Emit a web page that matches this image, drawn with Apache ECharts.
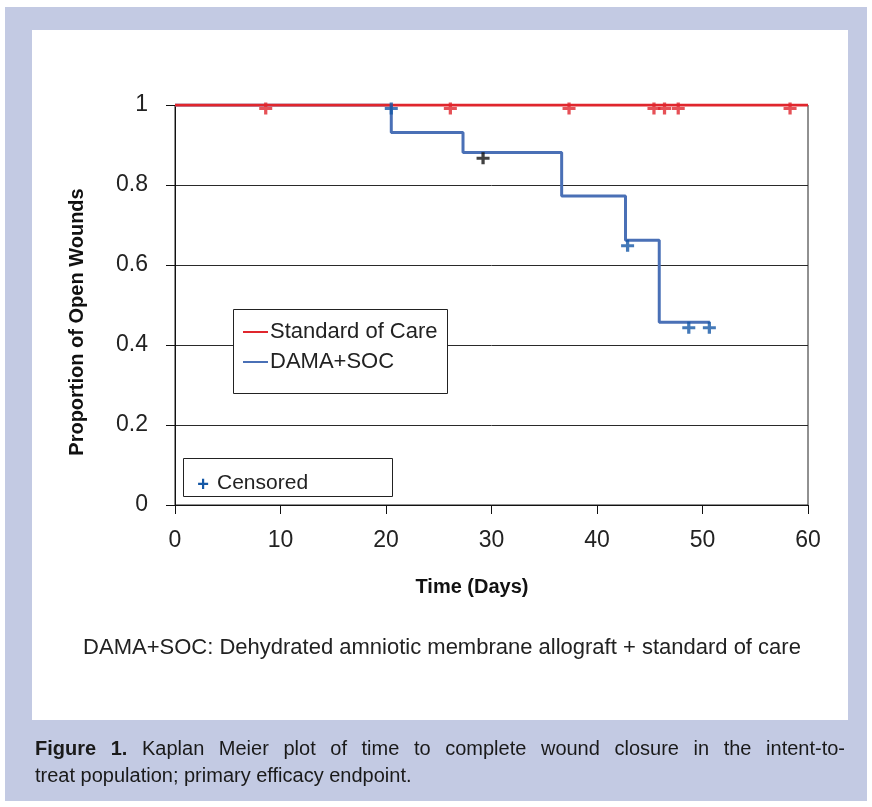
<!DOCTYPE html>
<html>
<head>
<meta charset="utf-8">
<script src="https://cdn.jsdelivr.net/npm/echarts@6/dist/echarts.min.js"></script>
<style>
html,body{margin:0;padding:0;background:#fff;}
#chart{width:872px;height:807px;}
</style>
</head>
<body>
<div id="chart"></div>
<script>
// ---- data ----
const xMin = 0, xMax = 60, xStep = 10;
const yMin = 0, yMax = 1, yStep = 0.2;

const socTimes = [0, 60];
const socValues = [1, 1];
const socCensorDays = [8.6, 26.1, 37.35, 45.4, 46.4, 47.7, 58.3];
const socCensorValues = [0.991, 0.991, 0.991, 0.991, 0.991, 0.991, 0.991];

const damaTimes = [0, 20.5, 27.3, 36.65, 42.7, 45.9, 50.7];
const damaValues = [1, 0.931, 0.881, 0.7725, 0.662, 0.457, 0.457];
const damaCensorDays = [20.5, 42.9, 48.7, 50.65];
const damaCensorValues = [0.991, 0.648, 0.443, 0.443];

const blackCensorDays = [29.2];
const blackCensorValues = [0.867];

const legendNames = ['Standard of Care', 'DAMA+SOC'];
const censorLabel = 'Censored';
const xTitle = 'Time (Days)';
const yTitle = 'Proportion of Open Wounds';
const footnote = 'DAMA+SOC: Dehydrated amniotic membrane allograft + standard of care';
const captionBoldWords = ['Figure', '1.'];
const captionLine1 = 'Kaplan Meier plot of time to complete wound closure in the intent-to-';
const captionLine2 = 'treat population; primary efficacy endpoint.';

// ---- styles ----
const RED = '#E0262D', BLUE = '#4A70B6', BLUE_MARK = '#1558A6', BG = '#C3CAE3';
const FONT = '"Liberation Sans", Arial, sans-serif';
const PLUS = 'path://M4.5,0H7.5V4.5H12V7.5H7.5V12H4.5V7.5H0V4.5H4.5Z';
const CAP_SIZE = 20;
const CAP_LEFT = 35, CAP_RIGHT = 845, CAP_Y1 = 749, CAP_Y2 = 776;

const zip = (a, b) => a.map((v, i) => [v, b[i]]);

// justified caption line 1 (word positions from measured widths)
const ctx = document.createElement('canvas').getContext('2d');
const capWords = captionBoldWords.map(w => ({w, bold: true}))
  .concat(captionLine1.split(' ').map(w => ({w, bold: false})));
capWords.forEach(o => {
  ctx.font = (o.bold ? 'bold ' : '') + CAP_SIZE + 'px ' + FONT;
  o.width = ctx.measureText(o.w).width;
});
const totalW = capWords.reduce((s, o) => s + o.width, 0);
const gap = (CAP_RIGHT - CAP_LEFT - totalW) / (capWords.length - 1);
let cx = CAP_LEFT;
const capElems = capWords.map(o => {
  const el = {type: 'text', z: 101, x: cx, y: CAP_Y1,
    style: {text: o.w, font: (o.bold ? 'bold ' : '') + CAP_SIZE + 'px ' + FONT, fill: '#1a1a1a', textVerticalAlign: 'middle'}};
  cx += o.width + gap;
  return el;
});

const chart = echarts.init(document.getElementById('chart'), null, {renderer: 'canvas'});

chart.setOption({
  animation: false,
  textStyle: {fontFamily: FONT},
  grid: {left: 175, top: 105, right: 64, bottom: 302, show: true, borderColor: '#222', borderWidth: 1, backgroundColor: 'transparent'},
  xAxis: {
    type: 'value', min: xMin, max: xMax, interval: xStep,
    axisLine: {show: true, onZero: false, lineStyle: {color: '#111', width: 1}},
    axisTick: {show: true, length: 9, lineStyle: {color: '#111'}},
    axisLabel: {fontSize: 23, color: '#222', margin: 24, fontFamily: FONT},
    splitLine: {show: false}
  },
  yAxis: {
    type: 'value', min: yMin, max: yMax, interval: yStep,
    axisLine: {show: true, onZero: false, lineStyle: {color: '#111', width: 1}},
    axisTick: {show: true, length: 9, lineStyle: {color: '#111'}},
    axisLabel: {fontSize: 23, color: '#222', margin: 27, fontFamily: FONT},
    splitLine: {show: true, lineStyle: {color: '#2a2a2a', width: 1}}
  },
  graphic: [
    {type: 'rect', z: -100, silent: true, shape: {x: 5, y: 7, width: 862, height: 794}, style: {fill: BG}},
    {type: 'rect', z: -99, silent: true, shape: {x: 32, y: 30, width: 816, height: 690}, style: {fill: '#fff'}},
    // legend box
    {type: 'rect', z: 100, shape: {x: 233.5, y: 309.5, width: 214, height: 84}, style: {fill: '#fff', stroke: '#222', lineWidth: 1}},
    {type: 'line', z: 101, shape: {x1: 243, y1: 332, x2: 268, y2: 332}, style: {stroke: RED, lineWidth: 2}},
    {type: 'line', z: 101, shape: {x1: 243, y1: 362, x2: 268, y2: 362}, style: {stroke: BLUE, lineWidth: 2}},
    {type: 'text', z: 101, x: 270, y: 332, style: {text: legendNames[0], font: '22px ' + FONT, fill: '#222', textVerticalAlign: 'middle'}},
    {type: 'text', z: 101, x: 270, y: 362, style: {text: legendNames[1], font: '22px ' + FONT, fill: '#222', textVerticalAlign: 'middle'}},
    // censored box
    {type: 'rect', z: 100, shape: {x: 183.5, y: 458.5, width: 209, height: 38}, style: {fill: '#fff', stroke: '#222', lineWidth: 1}},
    {type: 'text', z: 101, x: 203, y: 485, style: {text: '+', font: 'bold 20px ' + FONT, fill: BLUE_MARK, textAlign: 'center', textVerticalAlign: 'middle'}},
    {type: 'text', z: 101, x: 217, y: 483, style: {text: censorLabel, font: '21px ' + FONT, fill: '#222', textVerticalAlign: 'middle'}},
    // axis titles
    {type: 'text', z: 101, x: 472, y: 587, style: {text: xTitle, font: 'bold 20px ' + FONT, fill: '#111', textAlign: 'center', textVerticalAlign: 'middle'}},
    {type: 'text', z: 101, x: 77, y: 322, rotation: Math.PI / 2, style: {text: yTitle, font: 'bold 20px ' + FONT, fill: '#111', textAlign: 'center', textVerticalAlign: 'middle'}},
    // footnote
    {type: 'text', z: 101, x: 442, y: 648, style: {text: footnote, font: '22px ' + FONT, fill: '#222', textAlign: 'center', textVerticalAlign: 'middle'}},
    // caption line 2
    {type: 'text', z: 101, x: CAP_LEFT, y: CAP_Y2, style: {text: captionLine2, font: CAP_SIZE + 'px ' + FONT, fill: '#1a1a1a', textVerticalAlign: 'middle'}}
  ].concat(capElems),
  series: [
    {type: 'line', name: legendNames[1], step: 'end', data: zip(damaTimes, damaValues), symbol: 'none', z: 3,
     lineStyle: {color: BLUE, width: 3}},
    {type: 'line', name: legendNames[0], data: zip(socTimes, socValues), symbol: 'none', z: 4,
     lineStyle: {color: RED, width: 3}},
    {type: 'scatter', data: zip(socCensorDays, socCensorValues), symbol: PLUS, symbolSize: [13, 12], z: 5,
     itemStyle: {color: RED}},
    {type: 'scatter', data: zip(damaCensorDays, damaCensorValues), symbol: PLUS, symbolSize: [13, 12], z: 6,
     itemStyle: {color: BLUE_MARK}},
    {type: 'scatter', data: zip(blackCensorDays, blackCensorValues), symbol: PLUS, symbolSize: [13, 12], z: 6,
     itemStyle: {color: '#111'}}
  ]
});
</script>
</body>
</html>
